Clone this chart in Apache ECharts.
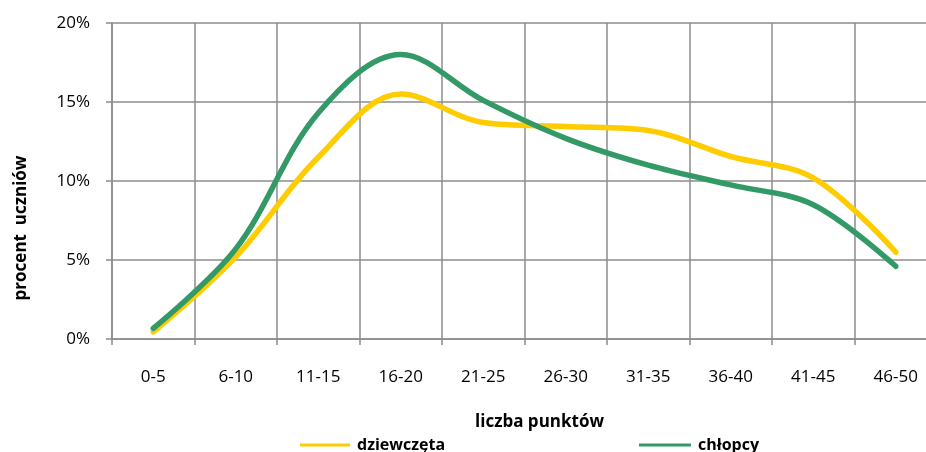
<!DOCTYPE html>
<html><head><meta charset="utf-8">
<script src="https://cdn.jsdelivr.net/npm/echarts@6/dist/echarts.min.js"></script>
<style>html,body{margin:0;padding:0;background:#fff;overflow:hidden}#c{width:945px;height:452px}</style>
</head><body><div id="c"></div>
<script>
const categories = ['0-5','6-10','11-15','16-20','21-25','26-30','31-35','36-40','41-45','46-50'];
const dziewczeta = [0.45, 5.2, 11.5, 15.5, 13.7, 13.45, 13.2, 11.55, 10.2, 5.5];
const chlopcy = [0.68, 5.7, 14.3, 18.0, 15.1, 12.7, 11.0, 9.75, 8.5, 4.6];
const yTicks = [0, 5, 10, 15, 20];
const FONT = 'Open Sans';
const chart = echarts.init(document.getElementById('c'), null, {renderer:'canvas'});
const gridColor = '#8c8c8c';
chart.setOption({
  animation: false,
  grid: {left: 112, right: 8, top: 23, bottom: 113},
  legend: [
    {data:['dziewczęta'], left: 295, top: 432, itemWidth: 50, itemHeight: 3, icon: 'rect', itemGap: 4,
     textStyle:{fontFamily:FONT, fontWeight:'bold', fontSize:16, color:'#000', padding:[0,0,0,2]}},
    {data:['chłopcy'], left: 634, top: 432, itemWidth: 52, itemHeight: 3, icon: 'rect',
     textStyle:{fontFamily:FONT, fontWeight:'bold', fontSize:16, color:'#000', padding:[0,0,0,2]}}
  ],
  xAxis: {
    type: 'category', data: categories, boundaryGap: true,
    name: 'liczba punktów', nameLocation: 'middle', nameGap: 75,
    nameTextStyle: {fontFamily:FONT, fontWeight:'bold', fontSize:17, color:'#000', padding:[0,0,0,30]},
    axisLine: {lineStyle:{color:gridColor, width:1.5}},
    axisTick: {show:true, length:6, alignWithLabel:false, lineStyle:{color:gridColor, width:1.5}},
    axisLabel: {fontFamily:FONT, fontSize:17, color:'#000', margin: 30, interval:0},
    splitLine: {show:true, interval:0, lineStyle:{color:gridColor, width:1.5}}
  },
  yAxis: {
    type: 'value', min: 0, max: 20, interval: 5,
    axisLine: {show:true, lineStyle:{color:gridColor, width:1.5}},
    axisTick: {show:true, length:6, lineStyle:{color:gridColor, width:1.5}},
    axisLabel: {fontFamily:FONT, fontSize:17, color:'#000', margin: 22,
      formatter: v => yTicks.includes(v) ? v + '%' : ''},
    splitLine: {show:true, lineStyle:{color:gridColor, width:1.5}}
  },
  graphic: [{
    type:'text', x: 21, y: 228, rotation: Math.PI/2,
    style:{text:'procent  uczniów', fontFamily:FONT, fontWeight:'bold', fontSize:17, fill:'#000',
      align:'center', verticalAlign:'middle'}
  }],
  series: [
    {name:'dziewczęta', type:'line', data: dziewczeta, smooth: 0.35, showSymbol:false, symbol:'none',
     lineStyle:{color:'#FFCC00', width:5.5, cap:'round'}, itemStyle:{color:'#FFCC00'}},
    {name:'chłopcy', type:'line', data: chlopcy, smooth: 0.35, showSymbol:false, symbol:'none',
     lineStyle:{color:'#339966', width:5.5, cap:'round'}, itemStyle:{color:'#339966'}}
  ]
});
</script></body></html>
